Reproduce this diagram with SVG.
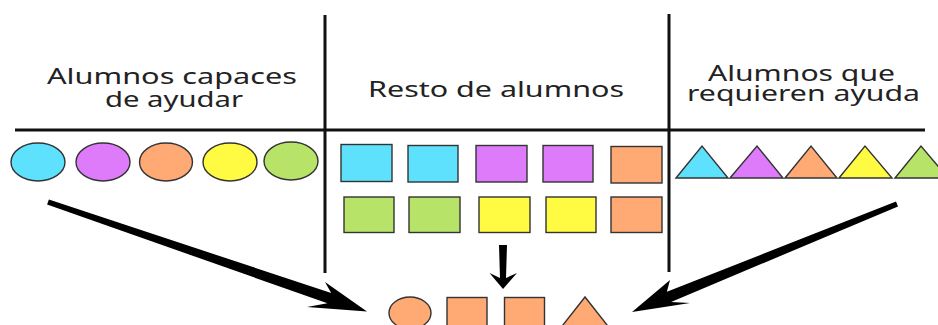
<svg xmlns="http://www.w3.org/2000/svg" width="938" height="325" viewBox="0 0 938 325">
<style>
.t{font-family:"Noto Sans","Open Sans","DejaVu Sans",sans-serif;font-size:22px;fill:#222}
.ln{stroke:#111;stroke-width:3;fill:none}
.sh{stroke:#333;stroke-width:1.4}
.cy{fill:#5ee1fd}.pu{fill:#dd7bfb}.or{fill:#ffa974}.ye{fill:#fffb42}.gr{fill:#b7e468}
.ar{fill:#000}
</style>
<rect width="938" height="325" fill="#fff"/>
<g id="grid">
<line class="ln" x1="15" y1="130" x2="925" y2="130"/>
<line class="ln" x1="325" y1="15" x2="325" y2="273"/>
<line class="ln" x1="669" y1="14" x2="669" y2="272"/>
</g>
<g id="title-left">
<text class="t" x="47" y="84" textLength="250" lengthAdjust="spacingAndGlyphs">Alumnos capaces</text>
<text class="t" x="105" y="107" textLength="138" lengthAdjust="spacingAndGlyphs">de ayudar</text>
</g>
<g id="title-middle">
<text class="t" x="368" y="97" textLength="256" lengthAdjust="spacingAndGlyphs">Resto de alumnos</text>
</g>
<g id="title-right">
<text class="t" x="708" y="81" textLength="187" lengthAdjust="spacingAndGlyphs">Alumnos que</text>
<text class="t" x="687" y="101" textLength="233" lengthAdjust="spacingAndGlyphs">requieren ayuda</text>
</g>
<g id="circles">
<ellipse class="sh cy" cx="38" cy="162" rx="27" ry="19"/>
<ellipse class="sh pu" cx="103" cy="162" rx="27" ry="19"/>
<ellipse class="sh or" cx="166" cy="162" rx="26.5" ry="19"/>
<ellipse class="sh ye" cx="230" cy="162" rx="27" ry="19"/>
<ellipse class="sh gr" cx="291" cy="161" rx="27" ry="19"/>
</g>
<g id="squares">
<rect class="sh cy" x="341" y="144.5" width="51" height="37"/>
<rect class="sh cy" x="408" y="145.5" width="50" height="36.5"/>
<rect class="sh pu" x="476" y="145.5" width="51" height="36.5"/>
<rect class="sh pu" x="543" y="145.5" width="50" height="36.5"/>
<rect class="sh or" x="611" y="146.5" width="51" height="36.5"/>
<rect class="sh gr" x="344" y="197" width="50" height="35.5"/>
<rect class="sh gr" x="409" y="197" width="51" height="35.5"/>
<rect class="sh ye" x="479" y="197" width="51" height="35.5"/>
<rect class="sh ye" x="546" y="197" width="50" height="35.5"/>
<rect class="sh or" x="611" y="197" width="51" height="35.5"/>
</g>
<g id="triangles">
<polygon class="sh cy" points="676,178 702,146 728,178"/>
<polygon class="sh pu" points="730,178 757,146 783,178"/>
<polygon class="sh or" points="785,178 811,146 837,178"/>
<polygon class="sh ye" points="839,178 865,146 892,178"/>
<polygon class="sh gr" points="895,178 921,146 948,178"/>
</g>
<g id="result">
<ellipse class="sh or" cx="410" cy="313" rx="21" ry="16"/>
<rect class="sh or" x="447" y="297.5" width="40" height="40"/>
<rect class="sh or" x="504.5" y="297.5" width="40" height="40"/>
<polygon class="sh or" points="585,297 559,330 611,330"/>
</g>
<g id="connectors">
<polygon class="ar" points="48.9,199.6 331.2,292.9 325,282 367,311.5 307,307 327.4,303.3 47.1,204.4"/>
<polygon class="ar" points="896,201.6 666.9,291.8 670,280 632,312 690,303 671.1,302 898,206.4"/>
<polygon class="ar" points="499,245 507,245 506,278 517,273 503,289 489.5,273 500,278"/>
</g>
</svg>
